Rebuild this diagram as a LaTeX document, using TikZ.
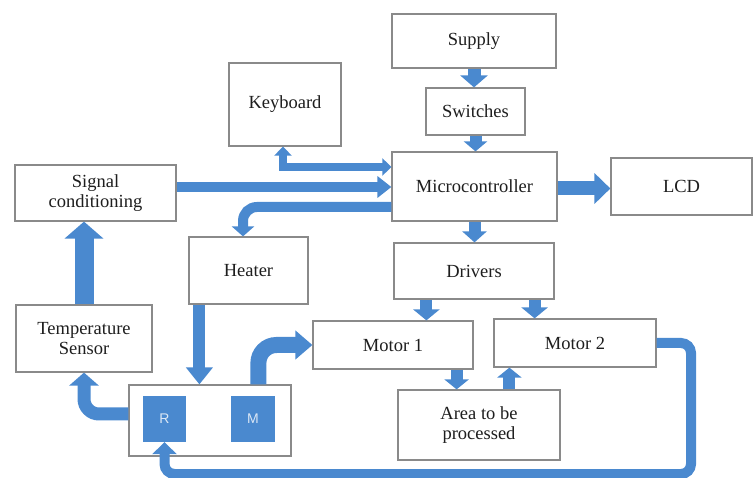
\documentclass[tikz,border=0pt]{standalone}
\usepackage{fontspec}
\setmainfont{Liberation Serif}
\newfontfamily\sansf{Liberation Sans}
\usetikzlibrary{arrows.meta,calc}
\definecolor{fb}{HTML}{4A89CF}
\definecolor{bx}{HTML}{8A8A8A}
\definecolor{tx}{HTML}{1E1E1E}
\begin{document}
\begin{tikzpicture}[x=1pt,y=-1pt,
 box/.style={draw=bx, line width=1.2pt, fill=white, inner sep=0pt, align=center, text=tx, font=\fontsize{18.5}{20.5}\selectfont},
 sq/.style={fill=fb, inner sep=0pt, text=white!80!fb, font=\sansf\fontsize{14}{15}\selectfont},
 fa/.style n args={3}{draw=fb, line width=#1, -{Triangle[width=#2,length=#3]}},
]
\useasboundingbox (0,0) rectangle (753,478);
% boxes
\node[box, minimum width=164, minimum height=54] (sup) at (474,41) {Supply};
\node[box, minimum width=99, minimum height=47] (sw) at (475.5,111.5) {Switches};
\node[box, minimum width=165, minimum height=69] (mc) at (474.5,186.5) {Microcontroller};
\node[box, minimum width=141, minimum height=57] (lcd) at (681.5,186.5) {LCD};
\node[box, minimum width=112, minimum height=83] (kb) at (285,104.5) {Keyboard};
\node[box, minimum width=161, minimum height=56] (sig) at (95.5,193) {Signal\\conditioning};
\node[box, minimum width=119, minimum height=67] (ht) at (248.5,270.5) {Heater};
\node[box, minimum width=136, minimum height=67] (tp) at (84,338.5) {Temperature\\Sensor};
\node[box, minimum width=162, minimum height=71] (rm) at (210,420.5) {};
\node[sq, minimum width=43, minimum height=46] (R) at (164.5,419) {R};
\node[sq, minimum width=44, minimum height=46] (M) at (253,419) {M};
\node[box, minimum width=160, minimum height=56] (dr) at (474,271) {Drivers};
\node[box, minimum width=160, minimum height=48] (m1) at (393,345) {Motor 1};
\node[box, minimum width=162, minimum height=48] (m2) at (575,343) {Motor 2};
\node[box, minimum width=162, minimum height=70] (ar) at (479,425) {Area to be\\processed};
% connectors
\draw[fa={13}{27}{12}] (sup.south) -- (sup.south |- sw.north);
\draw[fa={12}{23}{10}] (sw.south) -- (sw.south |- mc.north);
\draw[fa={12}{24}{11}] (mc.south) -- (mc.south |- dr.north);
\coordinate (d1) at ($(dr.south west)+(33,0)$);
\draw[fa={12}{26}{11}] (d1) -- (d1 |- m1.north);
\coordinate (d2) at ($(dr.south east)+(-20,0)$);
\draw[fa={12}{26}{11}] (d2) -- (d2 |- m2.north);
\coordinate (e1) at ($(m1.south east)+(-17,0)$);
\draw[fa={12}{24}{10}] (e1) -- (e1 |- ar.north);
\coordinate (e2) at ($(m2.south west)+(16,0)$);
\draw[fa={12}{24}{10}] (e2 |- ar.north) -- (e2);
\coordinate (l1) at ($(mc.east)+(0,2)$);
\draw[fa={14}{30}{16}] (l1) -- (l1 -| lcd.west);
\coordinate (s1) at ($(mc.west)+(0,0.5)$);
\draw[fa={10.5}{21}{14}] (s1 -| sig.east) -- (s1);
\coordinate (k1) at ($(mc.west)+(0,-19.5)$);
\coordinate (k2) at ($(kb.south)+(-2,0)$);
\draw[draw=fb, line width=8, {Triangle[width=17,length=9]}-{Triangle[width=17,length=9]}] (k1) -| (k2);
\coordinate (h1) at ($(mc.west)+(0,20.5)$);
\coordinate (h2) at ($(ht.north)+(-5.5,0)$);
\draw[fa={10}{22}{10}, rounded corners=14] (h1) -| (h2);
\coordinate (h3) at ($(ht.south west)+(11,0)$);
\draw[fa={12}{26}{17}] (h3) -- (h3 |- rm.north);
\coordinate (m0) at ($(rm.north west)+(130,0)$);
\draw[fa={16}{28}{17}, rounded corners=18] (m0) |- (m1.west);
\coordinate (t1) at ($(rm.west)+(0,-6.5)$);
\draw[fa={13}{29}{13}, rounded corners=15] (t1) -| (tp.south);
\draw[fa={19}{38}{17}] (tp.north) -- (tp.north |- sig.south);
\coordinate (c1) at (691,474);
\draw[fa={10}{24}{12}, rounded corners=10] (m2.east) -| (c1) -| (R.south);
\end{tikzpicture}
\end{document}
